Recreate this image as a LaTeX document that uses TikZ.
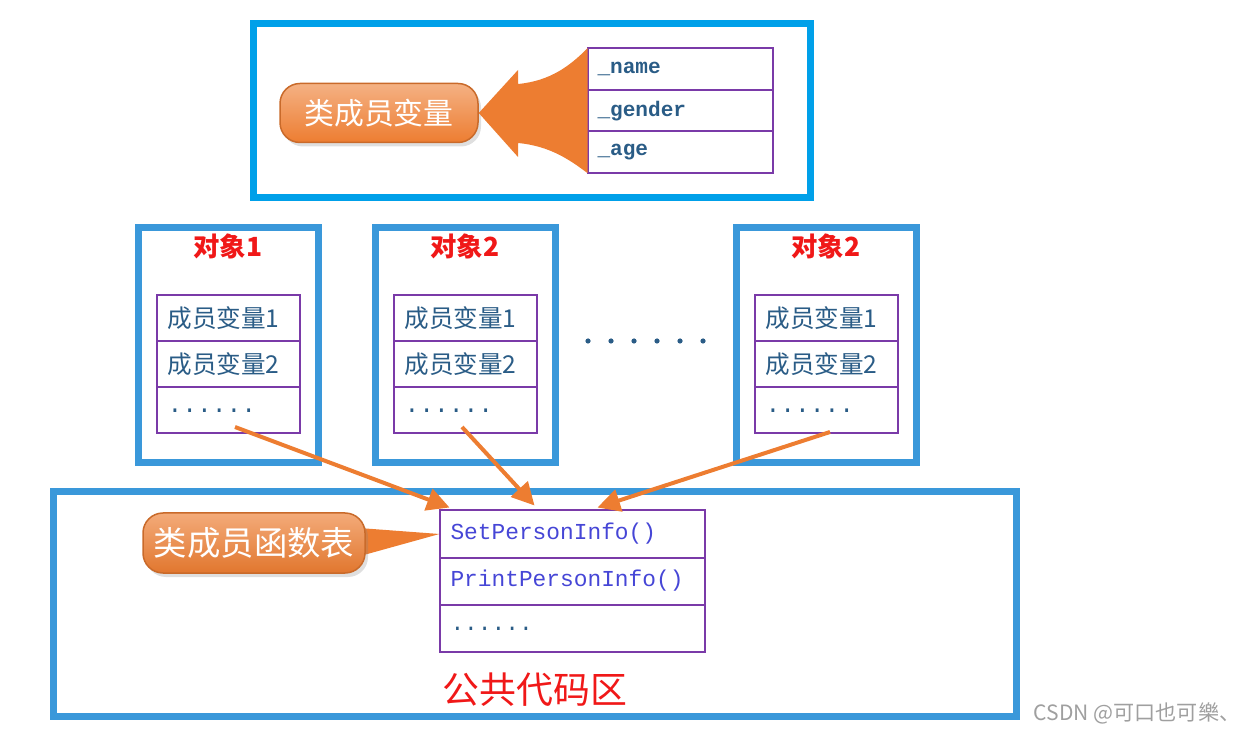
\documentclass[tikz,border=0pt]{standalone}
\usepackage{fontspec}
\setmonofont{Liberation Mono}
\newfontfamily\cjk{Noto Sans CJK SC}
\usetikzlibrary{arrows.meta, positioning, calc, shadows, backgrounds}
\definecolor{cframe}{HTML}{3A98DA}
\definecolor{ctop}{HTML}{00A0E9}
\definecolor{cpurple}{HTML}{7A3AA8}
\definecolor{corange}{HTML}{ED7D31}
\definecolor{cteal}{HTML}{2A5C86}
\definecolor{cfunc}{HTML}{4646D6}
\definecolor{cred}{HTML}{F01818}
\tikzset{
  frame/.style={draw=#1, line width=1.4mm, inner sep=0pt, outer sep=0pt},
  frame/.default=cframe,
  row/.style={draw=cpurple, line width=0.4mm, outer sep=0pt, inner ysep=0pt, align=left},
  pill/.style={rounded corners=4mm, text=white, draw=corange!85!black, line width=0.3mm,
    drop shadow={opacity=0.25, shadow xshift=0.6mm, shadow yshift=-0.8mm}},
  feed/.style={draw=corange, line width=0.8mm, -{Triangle[length=4.5mm, width=4.5mm]}},
}
\begin{document}
\begin{tikzpicture}[x=0.2mm, y=-0.2mm,
  vrow/.style={row, text width=33mm, inner xsep=2mm, minimum height=8.33mm,
    font=\ttfamily\bfseries\fontsize{12}{12}\selectfont, text=cteal},
  mrow/.style={row, text width=24.2mm, inner xsep=2.2mm, minimum height=9.2mm,
    font=\cjk\fontsize{14}{14}\selectfont, text=cteal},
  frow/.style={row, text width=48.6mm, inner xsep=2.2mm, minimum height=9.4mm,
    font=\ttfamily\fontsize{13}{13}\selectfont, text=cfunc},
  title/.style={font=\cjk\bfseries\fontsize{15}{15}\selectfont, text=cred}]
  \useasboundingbox (0,0) rectangle (1259,742);
  % class member variables
  \node[frame=ctop, minimum width=111.2mm, minimum height=34.8mm] (top) at (532,111) {};
  \node[vrow] (vname) at (680,69) {\_name};
  \node[vrow, below=0pt of vname] (vgender) {\_gender};
  \node[vrow, below=0pt of vgender] (vage) {\_age};
  \node[pill, top color=corange!60!white, bottom color=corange, minimum width=39.6mm, minimum height=11.8mm,
    font=\cjk\fontsize{17}{17}\selectfont] (vpill) at (379,113) {类成员变量};
  \fill[corange] (vpill.east) -- (518,70) -- (518,84) .. controls (550,81) and (570,66) .. (vname.north west)
    -- (vage.south west) .. controls (570,160) and (550,146) .. (518,143) -- (518,157) -- cycle;
  % objects
  \foreach \n/\x/\t in {1/228/对象1, 2/465/对象2, 3/826/对象2} {
    \node[frame, minimum width=36mm, minimum height=46.8mm] (obj\n) at (\x,345) {};
    \node[title] at (\x,246) {\t};
    \node[mrow] (o\n a) at (\x,318) {成员变量1};
    \node[mrow, below=0pt of o\n a] (o\n b) {成员变量2};
    \node[mrow, below=0pt of o\n b] (o\n c) {\ttfamily\fontsize{14}{14}\selectfont\raisebox{-1.2mm}{......}};
  }
  \foreach \i in {0,...,5}
    \fill[cteal] (588+23*\i,341) circle (2.6);
  % common code area
  \node[frame, minimum width=192.4mm, minimum height=44.8mm] (code) at (535,604) {};
  \node[frow] (f1) at (572,534) {SetPersonInfo()};
  \node[frow, below=0pt of f1] (f2) {PrintPersonInfo()};
  \node[frow, below=0pt of f2, text=cteal] (f3) {\raisebox{-1mm}{......}};
  \node[font=\cjk\fontsize{21}{21}\selectfont, text=cred] (codelab) at (535,690) {公共代码区};
  \node[pill, top color=corange!65!white, middle color=corange, bottom color=corange!95!black,
    minimum width=44.4mm, minimum height=12mm, font=\cjk\fontsize{19}{19}\selectfont] (fpill) at (254,543) {类成员函数表};
  \begin{scope}[on background layer]
    \fill[corange] ([xshift=-4mm, yshift=3.2mm]fpill.east) -- (f1.west) -- ([xshift=-4mm, yshift=-3.4mm]fpill.east) -- cycle;
  \end{scope}
  \draw[feed] ([xshift=1.4mm, yshift=1.2mm]o1c.south) -- ([xshift=2mm, yshift=0.6mm]f1.north west);
  \draw[feed] ([xshift=-0.6mm, yshift=1.2mm]o2c.south) -- ([xshift=19mm, yshift=1mm]f1.north west);
  \draw[feed] ([xshift=0.8mm, yshift=0.2mm]o3c.south) -- ([xshift=31.6mm, yshift=0.6mm]f1.north west);
  \node[font=\cjk\fontsize{12}{12}\selectfont, text=gray!75] (mark) at (1137,713) {CSDN @可口也可樂、};
\end{tikzpicture}
\end{document}
